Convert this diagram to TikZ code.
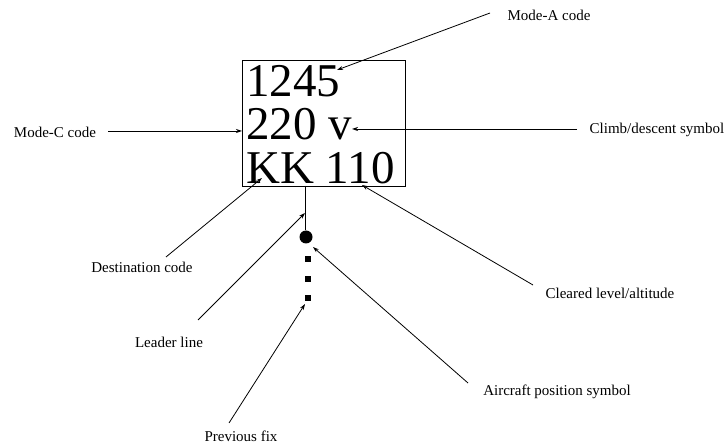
\documentclass[tikz,border=0pt]{standalone}
\usepackage{fontspec}
\setmainfont{Liberation Serif}
\usetikzlibrary{arrows.meta}
\begin{document}
\begin{tikzpicture}[x=1pt,y=-1pt,
  lbl/.style={inner sep=0pt,font=\fontsize{15}{15}\selectfont},
  big/.style={inner sep=0pt,anchor=base west,font=\fontsize{47}{47}\selectfont},
  arr/.style={line width=0.8pt,-{Stealth[length=6pt,width=4pt]}},
  fixsq/.style={fill=black,minimum size=6pt,inner sep=0pt}]
\useasboundingbox (0,0) rectangle (726,443);
% data block
\node[draw,line width=0.8pt,minimum width=163pt,minimum height=126pt,inner sep=0pt] (block) at (323.5,123) {};
\node[big] (l1) at (246,97) {1245};
\node[big] (l2) at (246,140) {220 v};
\node[big] (l3) at (246,184) {KK 110};
% leader line and symbols
\coordinate (lbot) at (305,186);
\node[circle,fill=black,minimum size=13pt,inner sep=0pt] (pos) at (306,237) {};
\node[fixsq] (f1) at (308,259) {};
\node[fixsq] (f2) at (308,279) {};
\node[fixsq] (f3) at (308,298) {};
\draw[line width=0.9pt] (lbot) -- (pos.north -| lbot);
% labels
\node[lbl] (la) at (549,15) {Mode-A code};
\node[lbl] (lc) at (55,132) {Mode-C code};
\node[lbl] (lcl) at (657,130) {Climb/descent symbol};
\node[lbl] (ld) at (142,267) {Destination code};
\node[lbl] (lcf) at (610,293) {Cleared level/altitude};
\node[lbl] (ll) at (169,342) {Leader line};
\node[lbl] (lap) at (557,392) {Aircraft position symbol};
\node[lbl] (lpf) at (241,436) {Previous fix};
% connector ends
\coordinate (sa) at (490,13);  \coordinate (ta) at (337,70);
\coordinate (sc) at (108,131); \coordinate (tc) at (242,131);
\coordinate (scl) at (577,129); \coordinate (tcl) at (352,129);
\coordinate (sd) at (166,257); \coordinate (td) at (262,178);
\coordinate (scf) at (533,285); \coordinate (tcf) at (362,185);
\coordinate (sl) at (198,320); \coordinate (tl) at (305,213);
\coordinate (sap) at (468,383); \coordinate (tap) at (313,247);
\coordinate (spf) at (229,423); \coordinate (tpf) at (305,304);
% connectors
\draw[arr] (sa) -- (ta);
\draw[arr] (sc) -- (tc);
\draw[arr] (scl) -- (tcl);
\draw[arr] (sd) -- (td);
\draw[arr] (scf) -- (tcf);
\draw[arr] (sl) -- (tl);
\draw[arr] (sap) -- (tap);
\draw[arr] (spf) -- (tpf);
\end{tikzpicture}
\end{document}
